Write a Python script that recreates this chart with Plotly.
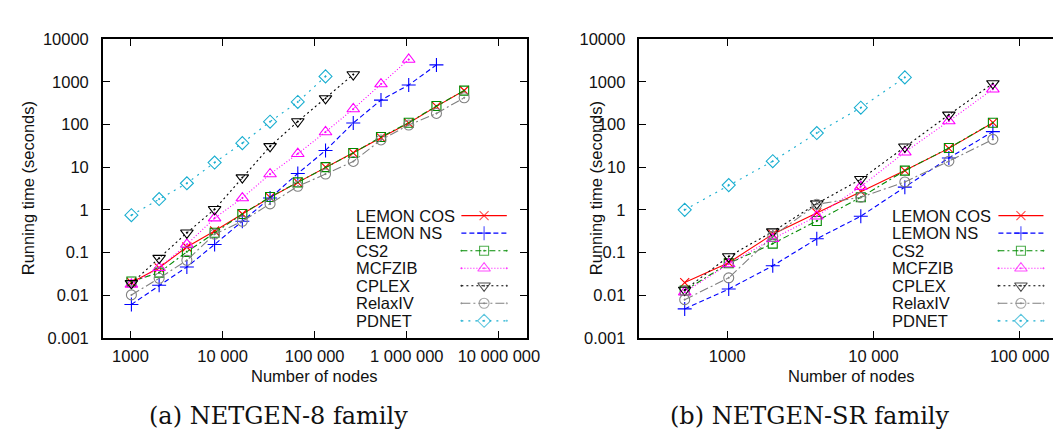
import plotly.graph_objects as go

# ---------------- data ----------------
series_names = ["LEMON COS", "LEMON NS", "CS2", "MCFZIB", "CPLEX", "RelaxIV", "PDNET"]

nodes_a = [1024, 2048, 4096, 8192, 16384, 32768, 65536, 131072, 262144,
           524288, 1048576, 2097152, 4194304]
lemon_cos_a = [0.020, 0.044, 0.135, 0.32, 0.80, 1.95, 4.4, 10.0, 21.7, 49, 108, 265, 624]
lemon_ns_a = [0.0061, 0.0171, 0.046, 0.155, 0.54, 1.89, 7.1, 24.6, 108, 372, 838, 2480]
cs2_a = [0.021, 0.034, 0.104, 0.29, 0.80, 2.0, 4.4, 10.0, 21.5, 51, 110, 270, 620]
mcfzib_a = [0.018, 0.044, 0.155, 0.64, 1.89, 6.9, 20.6, 66.6, 230, 882, 3320]
cplex_a = [0.019, 0.074, 0.29, 1.03, 5.7, 30.7, 117, 406, 1479]
relaxiv_a = [0.0102, 0.025, 0.066, 0.27, 0.54, 1.38, 3.56, 6.9, 13.6, 43.4, 97, 181, 422]
pdnet_a = [0.75, 1.79, 4.2, 12.8, 36.5, 116, 336, 1334]

nodes_b = [512, 1024, 2048, 4096, 8192, 16384, 32768, 65536]
lemon_cos_b = [0.0198, 0.058, 0.27, 0.85, 2.7, 8.3, 27.5, 110]
lemon_ns_b = [0.0048, 0.014, 0.049, 0.21, 0.71, 3.4, 16.4, 68]
cs2_b = [0.0129, 0.056, 0.162, 0.55, 1.97, 8.3, 28, 110]
mcfzib_b = [0.0118, 0.054, 0.21, 0.71, 3.5, 22.4, 120, 669]
cplex_b = [0.0133, 0.081, 0.31, 1.4, 5.2, 30, 168, 912]
relaxiv_b = [0.0079, 0.0256, 0.24, 1.35, 1.97, 4.5, 13.8, 44.8]
pdnet_b = [1.0, 3.8, 13.8, 63, 247, 1264]

y_tickvals = [0.001, 0.01, 0.1, 1, 10, 100, 1000, 10000]
y_ticktext = ["0.001", "0.01", "0.1", "1", "10", "100", "1000", "10000"]
xa_tickvals = [1e3, 1e4, 1e5, 1e6, 1e7]
xa_ticktext = ["1000", "10 000", "100 000", "1 000 000", "10 000 000"]
xb_tickvals = [1e3, 1e4, 1e5]
xb_ticktext = ["1000", "10 000", "100 000"]

# ---------------- styles ----------------
colors = ["#ff0000", "#0000ff", "#008a00", "#ff00ff", "#000000", "#808080", "#1aaed0"]
dashes = ["solid", "5px,3px", "6px,3px,2px,3px", "1px,2px", "2px,3px",
          "9px,3px,2px,3px", "2px,5px"]
symbols = ["x-thin-open", "cross-thin-open", "square-open-dot", "triangle-up-open-dot",
           "triangle-down-open-dot", "circle-open-dot", "diamond-open-dot"]
sizes = [9, 10, 9, 11, 11, 10, 10]

W, H = 1061, 430
FONT = "Liberation Sans, Arial, sans-serif"
SERIF = "DejaVu Serif, serif"
FS = 16.5

# plot boxes in pixels
A_L, A_R = 96, 525
B_L = 639.3
P_T, P_B = 23, 335

fig = go.Figure()

data_a = [lemon_cos_a, lemon_ns_a, cs2_a, mcfzib_a, cplex_a, relaxiv_a, pdnet_a]
data_b = [lemon_cos_b, lemon_ns_b, cs2_b, mcfzib_b, cplex_b, relaxiv_b, pdnet_b]

for panel, (nodes, data, xa, ya) in enumerate([(nodes_a, data_a, "x", "y"),
                                               (nodes_b, data_b, "x2", "y2")]):
    for i, vals in enumerate(data):
        fig.add_trace(go.Scatter(
            x=nodes[:len(vals)], y=vals, xaxis=xa, yaxis=ya,
            mode="lines+markers", name=series_names[i], showlegend=False,
            line=dict(color=colors[i], width=1.1, dash=dashes[i]),
            marker=dict(symbol=symbols[i], size=sizes[i], color=colors[i],
                        line=dict(color=colors[i], width=1.1)),
        ))

# ---------------- custom gnuplot-style legends (text left, key right) ----------------
ROW0, ROWSTEP = 207.3, 18.3
legend_specs = [(350.7, 459, 505), (893.3, 1002.7, 1048.3)]
for (tx, lx0, lx1) in legend_specs:
    for i, name in enumerate(series_names):
        ry = ROW0 + i * ROWSTEP
        fig.add_trace(go.Scatter(
            x=[lx0, (lx0 + lx1) / 2, lx1], y=[ry, ry, ry], xaxis="x3", yaxis="y3",
            mode="lines+markers", showlegend=False, hoverinfo="skip",
            line=dict(color=colors[i], width=1.1, dash=dashes[i]),
            marker=dict(symbol=symbols[i], size=[0, sizes[i], 0], color=colors[i],
                        line=dict(color=colors[i], width=1.1)),
        ))
        fig.add_annotation(x=tx / W, y=(H - ry) / H, xref="paper", yref="paper",
                           text=name, showarrow=False, xanchor="left", yanchor="middle",
                           font=dict(family=FONT, size=FS, color="#111111"))

axis_common = dict(type="log", showgrid=False, zeroline=False, ticks="inside", ticklen=7,
                   tickwidth=1, tickcolor="black", showline=True, linecolor="black",
                   linewidth=1.5, tickfont=dict(family=FONT, size=FS, color="#111111"))

ydom = [(H - P_B) / H, (H - P_T) / H]
fig.update_layout(
    width=W, height=H, margin=dict(l=0, r=0, t=0, b=0),
    paper_bgcolor="white", plot_bgcolor="rgba(0,0,0,0)",
    xaxis=dict(**axis_common, domain=[A_L / W, A_R / W], range=[2.7, 7.3], anchor="y",
               tickvals=xa_tickvals, ticktext=xa_ticktext, mirror="ticks",
               ticklabelstandoff=2),
    yaxis=dict(**axis_common, domain=ydom, range=[-3, 4], anchor="x",
               tickvals=y_tickvals, ticktext=y_ticktext, mirror="ticks",
               ticklabelstandoff=9),
    xaxis2=dict(**axis_common, domain=[B_L / W, 1.0], range=[2.4, 5.248], anchor="y2",
                tickvals=xb_tickvals, ticktext=xb_ticktext, mirror="ticks",
                ticklabelstandoff=2),
    yaxis2=dict(**axis_common, domain=ydom, range=[-3, 4], anchor="x2",
                tickvals=y_tickvals, ticktext=y_ticktext, mirror=False,
                ticklabelstandoff=9),
    xaxis3=dict(domain=[0, 1], range=[0, W], visible=False, anchor="y3", fixedrange=True),
    yaxis3=dict(domain=[0, 1], range=[H, 0], visible=False, anchor="x3", fixedrange=True),
)

# axis titles
for cx in [(A_L + A_R) / 2, 854]:
    fig.add_annotation(x=cx / W, y=(H - 375) / H, xref="paper", yref="paper",
                       text="Number of nodes", showarrow=False, xanchor="center",
                       yanchor="middle", font=dict(family=FONT, size=FS, color="#111111"))
for cx in [20, 595]:
    fig.add_annotation(x=cx / W, y=(H - (P_T + P_B) / 2) / H, xref="paper", yref="paper",
                       text="Running time (seconds)", showarrow=False, textangle=-90,
                       xanchor="center", yanchor="middle",
                       font=dict(family=FONT, size=FS, color="#111111"))

# captions
for cx, cap in [(274, "(a) NETGEN-8 family"), (811, "(b) NETGEN-SR family")]:
    fig.add_annotation(x=cx / W, y=(H - 416) / H, xref="paper", yref="paper",
                       text=cap, showarrow=False, xanchor="center", yanchor="middle",
                       font=dict(family=SERIF, size=24, color="#111111"))

fig.write_html("out.html")
